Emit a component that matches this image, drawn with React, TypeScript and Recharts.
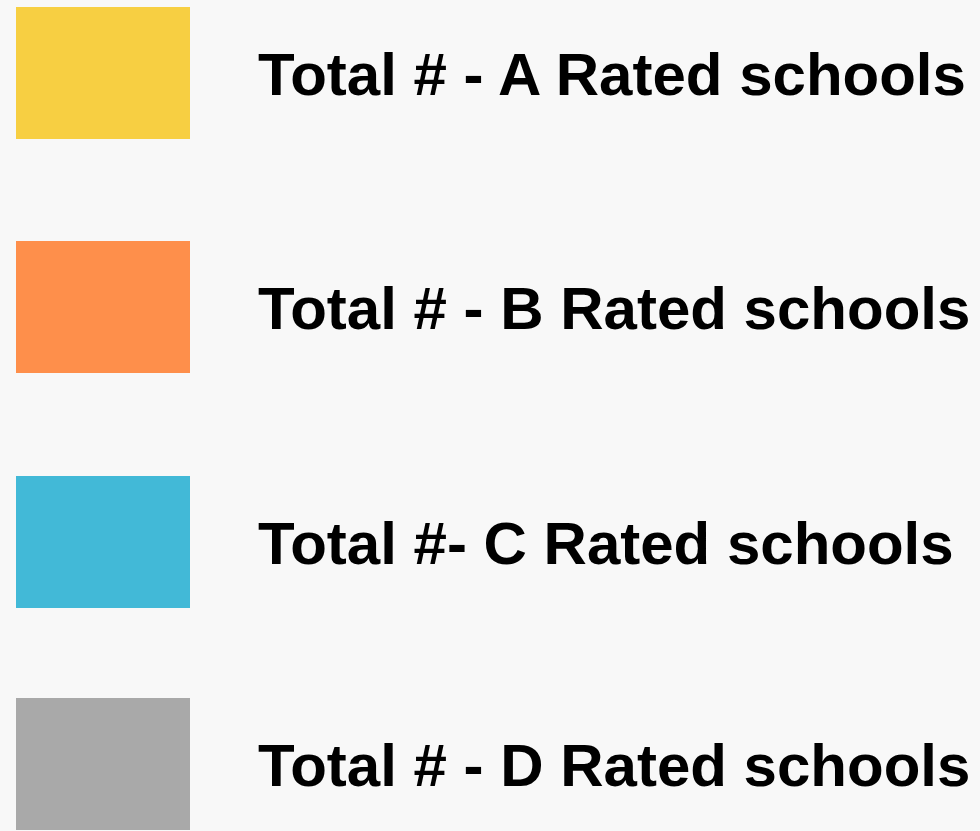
import { BarChart, Bar, Legend } from "recharts";

const ratings = ["A", "B", "C", "D"];
const seriesNames = [
  "Total # - A Rated schools",
  "Total # - B Rated schools",
  "Total #- C Rated schools",
  "Total # - D Rated schools",
];
const seriesColors = ["#f7cf42", "#fe8f4b", "#42b9d7", "#a9a9a9"];
const schoolCounts = [0, 0, 0, 0];

const data = [
  Object.fromEntries(ratings.map((r, i) => [r, schoolCounts[i]])),
];

// legend row tops, matching the reference spacing
const rowTops = [7, 241, 476, 698];

function LegendContent({ payload }: any) {
  return (
    <div style={{ position: "relative", width: 980, height: 831 }}>
      {(payload || []).map((item: any, i: number) => (
        <div
          key={item.value}
          style={{
            position: "absolute",
            left: 16,
            top: rowTops[i],
            height: 132,
            display: "flex",
            alignItems: "center",
          }}
        >
          <div style={{ width: 174, height: 132, background: item.color }} />
          <span
            style={{
              marginLeft: 68,
              fontFamily: "'Liberation Sans', Arial, sans-serif",
              fontWeight: 700,
              fontSize: 60,
              color: "#000",
              whiteSpace: "nowrap",
              lineHeight: 1,
              position: "relative",
              top: 2,
            }}
          >
            {item.value}
          </span>
        </div>
      ))}
    </div>
  );
}

export default function App() {
  return (
    <div style={{ position: "absolute", left: 0, top: 0, width: 980, height: 831, background: "#f8f8f8", overflow: "hidden" }}>
      <BarChart width={980} height={831} data={data} margin={{ top: 0, right: 0, bottom: 0, left: 0 }}>
        {ratings.map((r, i) => (
          <Bar key={r} dataKey={r} name={seriesNames[i]} fill={seriesColors[i]} hide isAnimationActive={false} />
        ))}
        <Legend
          itemSorter="dataKey"
          content={<LegendContent />}
          wrapperStyle={{ position: "absolute", left: 0, top: 0, width: 980, height: 831 }}
        />
      </BarChart>
    </div>
  );
}
